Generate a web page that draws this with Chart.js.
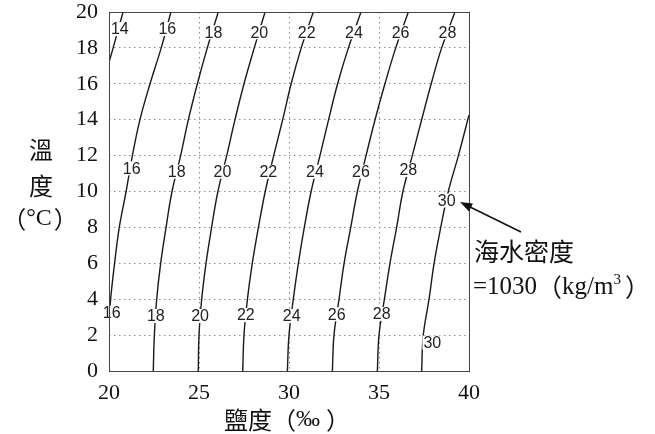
<!DOCTYPE html>
<html>
<head>
<meta charset="utf-8">
<script src="https://cdn.jsdelivr.net/npm/chart.js"></script>
<style>
  html, body { margin: 0; padding: 0; background: #fff; }
  canvas { display: block; }
</style>
</head>
<body>
<canvas id="densityChart" width="655" height="434"></canvas>
<script>
// temperature steps (°C) the contours were read at
const tempSteps = [0, 2, 4, 6, 8, 10, 12, 14, 16, 18, 20];

// salinity (‰) of each density contour at every temperature step
const sal18 = [22.46, 22.52, 22.65, 22.87, 23.17, 23.5, 23.98, 24.41, 24.91, 25.46, 26.07];
const sal20 = [24.96, 25.0, 25.15, 25.39, 25.7, 26.05, 26.54, 27.0, 27.5, 28.07, 28.67];
const sal22 = [27.43, 27.5, 27.69, 27.96, 28.3, 28.68, 29.15, 29.65, 30.12, 30.68, 31.35];
const sal24 = [29.91, 30.0, 30.24, 30.52, 30.85, 31.23, 31.72, 32.2, 32.7, 33.3, 34.0];
const sal26 = [32.41, 32.5, 32.78, 33.06, 33.43, 33.8, 34.28, 34.78, 35.33, 35.93, 36.63];
const sal28 = [34.91, 35.0, 35.3, 35.61, 35.98, 36.33, 36.85, 37.37, 37.9, 38.48, 39.22];

// contours that run out of the frame keep their own temperature list
const temp14 = [17.2, 18, 20];
const sal14 = [20.0, 20.23, 20.78];
const temp16 = [2.6, 4, 6, 8, 10, 12, 14, 16, 18, 20];
const sal16 = [20.0, 20.09, 20.31, 20.57, 20.95, 21.3, 21.72, 22.28, 22.9, 23.44];
const temp30 = [0, 2, 4, 6, 8, 10, 12, 14.26];
const sal30 = [37.37, 37.46, 37.78, 38.06, 38.43, 38.85, 39.41, 40.0];

// numbers written on the contours
const labelText = ['14', '16', '18', '20', '22', '24', '26', '28',
                   '16', '18', '20', '22', '24', '26', '28', '30',
                   '16', '18', '20', '22', '24', '26', '28', '30'];
const labelSal = [20.6, 23.24, 25.8, 28.35, 30.98, 33.61, 36.2, 38.8,
                  21.26, 23.76, 26.3, 28.85, 31.44, 34.0, 36.63, 38.76,
                  20.15, 22.6, 25.06, 27.6, 30.15, 32.65, 35.15, 37.96];
const labelTemp = [19.05, 19.05, 18.87, 18.87, 18.87, 18.87, 18.87, 18.87,
                   11.29, 11.1, 11.1, 11.1, 11.1, 11.1, 11.2, 9.5,
                   3.25, 3.06, 3.06, 3.12, 3.06, 3.16, 3.18, 1.58];

const xTicks = [20, 25, 30, 35, 40];
const yTicks = [0, 2, 4, 6, 8, 10, 12, 14, 16, 18, 20];

const SERIF = "'Liberation Serif', 'Times New Roman', serif";
const CJK = "'Noto Sans CJK TC', 'Noto Sans CJK SC', sans-serif";
const SANS = "'Liberation Sans', Arial, sans-serif";

function contour(sal, temps) {
  return {
    data: sal.map((s, i) => ({ x: s, y: temps[i] })),
    showLine: true,
    borderColor: '#1a1a1a',
    borderWidth: 1.4,
    pointRadius: 0,
    tension: 0.4,
    fill: false
  };
}

// draws a run of text pieces with mixed fonts, aligned left or centered
function drawRun(ctx, parts, x, y, align) {
  let total = 0;
  parts.forEach(p => {
    ctx.font = p.font;
    p.w = ctx.measureText(p.text).width;
    total += p.w + (p.gap || 0);
  });
  let cx = align === 'center' ? x - total / 2 : x;
  ctx.textAlign = 'left';
  ctx.textBaseline = 'middle';
  parts.forEach(p => {
    cx += p.gap || 0;
    ctx.font = p.font;
    ctx.fillText(p.text, cx, y + (p.dy || 0));
    cx += p.w;
  });
}

const decorations = {
  id: 'decorations',
  afterDatasetsDraw(chart) {
    const ctx = chart.ctx;
    const xs = chart.scales.x, ys = chart.scales.y;
    ctx.save();
    ctx.font = '16px ' + SANS;
    ctx.textAlign = 'center';
    ctx.textBaseline = 'middle';
    labelText.forEach((t, i) => {
      const px = xs.getPixelForValue(labelSal[i]);
      const py = ys.getPixelForValue(labelTemp[i]);
      const w = ctx.measureText(t).width;
      ctx.fillStyle = '#fff';
      ctx.fillRect(px - w / 2 - 1, py - 7, w + 2, 14);
      ctx.fillStyle = '#222';
      ctx.fillText(t, px, py + 1);
    });
    ctx.restore();
  },
  afterDraw(chart) {
    const ctx = chart.ctx;
    const a = chart.chartArea;
    ctx.save();
    // frame
    ctx.strokeStyle = '#444';
    ctx.lineWidth = 1;
    ctx.strokeRect(Math.round(a.left) + 0.5, Math.round(a.top) + 0.5,
                   Math.round(a.right - a.left), Math.round(a.bottom - a.top));

    ctx.fillStyle = '#111';
    // x axis title
    drawRun(ctx, [
      { text: '鹽度（', font: '24px ' + CJK },
      { text: '‰', font: '24px ' + SERIF },
      { text: '）', font: '24px ' + CJK, gap: 6 }
    ], 287, 420, 'center');

    // y axis title, stacked
    drawRun(ctx, [{ text: '溫', font: '24px ' + CJK }], 41, 150, 'center');
    drawRun(ctx, [{ text: '度', font: '24px ' + CJK }], 41, 186, 'center');
    drawRun(ctx, [
      { text: '（', font: '24px ' + CJK },
      { text: '°C', font: '24px ' + SERIF },
      { text: '）', font: '24px ' + CJK, gap: 2 }
    ], 40, 219, 'center');

    // annotation with arrow
    const x1 = 521, y1 = 232, x2 = 460, y2 = 202;
    ctx.strokeStyle = '#111';
    ctx.lineWidth = 1.5;
    ctx.beginPath();
    ctx.moveTo(x1, y1);
    ctx.lineTo(x2 + 6, y2 + 3);
    ctx.stroke();
    const ang = Math.atan2(y2 - y1, x2 - x1);
    ctx.beginPath();
    ctx.moveTo(x2, y2);
    ctx.lineTo(x2 - 13 * Math.cos(ang - 0.35), y2 - 13 * Math.sin(ang - 0.35));
    ctx.lineTo(x2 - 13 * Math.cos(ang + 0.35), y2 - 13 * Math.sin(ang + 0.35));
    ctx.closePath();
    ctx.fill();

    drawRun(ctx, [{ text: '海水密度', font: '25px ' + CJK }], 474, 251, 'left');
    drawRun(ctx, [
      { text: '=1030', font: '25px ' + SERIF },
      { text: '（', font: '25px ' + CJK },
      { text: 'kg/m', font: '25px ' + SERIF },
      { text: '3', font: '15px ' + SERIF, dy: -7 },
      { text: '）', font: '25px ' + CJK, gap: 4 }
    ], 473, 287, 'left');
    ctx.restore();
  }
};

const edgeHidden = (lo, hi) => c =>
  (c.tick && (c.tick.value === lo || c.tick.value === hi)) ? 'rgba(0,0,0,0)' : '#8a8a8a';

new Chart(document.getElementById('densityChart'), {
  type: 'scatter',
  data: {
    datasets: [
      contour(sal14, temp14),
      contour(sal16, temp16),
      contour(sal18, tempSteps),
      contour(sal20, tempSteps),
      contour(sal22, tempSteps),
      contour(sal24, tempSteps),
      contour(sal26, tempSteps),
      contour(sal28, tempSteps),
      contour(sal30, temp30)
    ]
  },
  options: {
    responsive: false,
    animation: false,
    layout: { padding: { top: 12, right: 186, bottom: 0, left: 0 } },
    plugins: { legend: { display: false }, tooltip: { enabled: false } },
    scales: {
      x: {
        type: 'linear',
        min: 20,
        max: 40,
        afterBuildTicks: s => { s.ticks = xTicks.map(v => ({ value: v })); },
        afterFit: s => { s.height = 63; s.paddingLeft = 0; s.paddingRight = 0; },
        ticks: { font: { family: SERIF, size: 22 }, color: '#111', padding: 9, maxRotation: 0 },
        grid: { color: edgeHidden(20, 40), lineWidth: 1, drawTicks: false },
        border: { display: false, dash: [1.5, 3.5] }
      },
      y: {
        type: 'linear',
        min: 0,
        max: 20,
        afterBuildTicks: s => { s.ticks = yTicks.map(v => ({ value: v })); },
        afterFit: s => { s.width = 109; s.paddingTop = 0; s.paddingBottom = 0; },
        ticks: { font: { family: SERIF, size: 22 }, color: '#111', padding: 11 },
        grid: { color: edgeHidden(0, 20), lineWidth: 1, drawTicks: false },
        border: { display: false, dash: [1.5, 3.5] }
      }
    }
  },
  plugins: [decorations]
});
</script>
</body>
</html>
